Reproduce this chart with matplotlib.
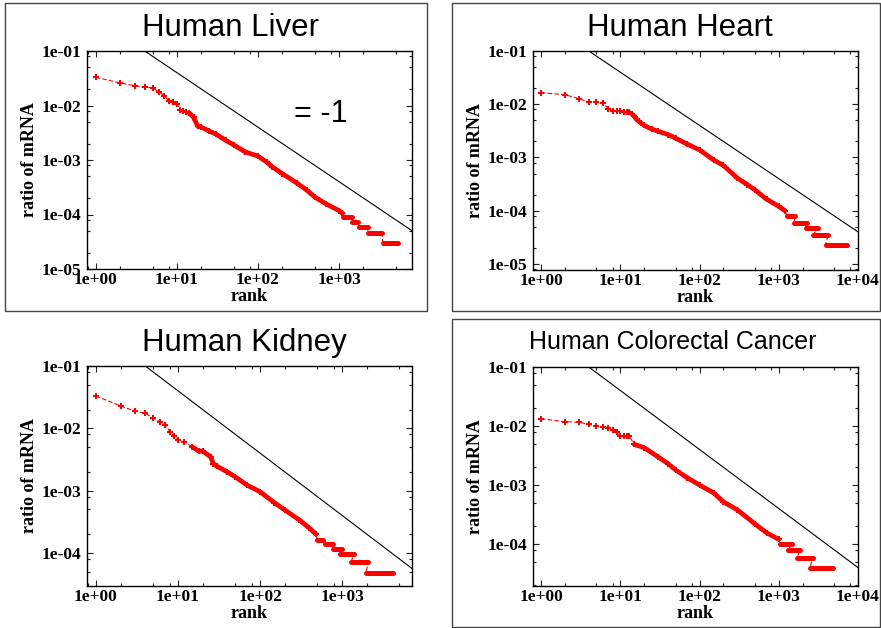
import matplotlib
matplotlib.use("Agg")
import matplotlib.pyplot as plt
from matplotlib.ticker import LogLocator, NullFormatter, FixedLocator, FuncFormatter
from matplotlib.patches import Rectangle
import numpy as np

W, H = 881, 628

# ---- values (rank, ratio of mRNA) ----
# Human Liver
liver_rank = [1, 2, 3, 4, 5, 6, 7, 8, 9, 10, 11, 12, 13, 14, 16, 18, 20, 25, 30, 40,
              50, 70, 100, 130, 150, 200, 300, 400, 500, 700, 1000, 1100]
liver_ratio = [0.0329, 0.0259, 0.0231, 0.0215, 0.0212, 0.0175, 0.0151, 0.0119, 0.0116,
               0.0107, 0.0083, 0.0078, 0.0076, 0.0074, 0.0061, 0.0042, 0.0040, 0.0034,
               0.0030, 0.0023, 0.0019, 0.0014, 0.00118, 0.00090, 0.00075, 0.00056,
               0.00038, 0.00028, 0.00021, 0.000155, 0.000118, 0.000105]
liver_step = [8.9e-5, 7.4e-5, 5.9e-5, 4.5e-5, 2.95e-5]
liver_step_from = [1120, 1460, 1750, 2280, 3450]
liver_step_to = [1440, 1730, 2250, 3400, 5400]

# Human Heart
heart_rank = [1, 2, 3, 4, 5, 6, 7, 8, 9, 10, 11, 12, 13, 14, 15, 16, 18, 20, 25, 30,
              40, 50, 70, 100, 150, 200, 300, 400, 500, 700, 1000, 1200]
heart_ratio = [0.0165, 0.0151, 0.0127, 0.0110, 0.0110, 0.0107, 0.0083, 0.0076, 0.0075,
               0.0074, 0.0073, 0.0072, 0.0070, 0.0066, 0.0059, 0.0052, 0.0045, 0.0040,
               0.0034, 0.0031, 0.0027, 0.0023, 0.00178, 0.00139, 0.00090, 0.00071,
               0.00041, 0.00031, 0.000246, 0.000165, 0.000121, 0.000100]
heart_step = [8.0e-5, 6.0e-5, 4.7e-5, 3.55e-5, 2.3e-5]
heart_step_from = [1260, 1560, 2200, 2710, 3900]
heart_step_to = [1590, 2240, 3150, 4200, 7160]

# Human Kidney
kidney_rank = [1, 2, 3, 4, 5, 6, 7, 8, 9, 10, 12, 15, 18, 20, 25, 27, 30, 40, 50, 70,
               100, 150, 200, 300, 400, 480]
kidney_ratio = [0.033, 0.0229, 0.0188, 0.0176, 0.0145, 0.0128, 0.0113, 0.0088, 0.0074,
                0.0066, 0.0061, 0.0050, 0.0043, 0.0043, 0.0035, 0.0027, 0.00245, 0.0020,
                0.00166, 0.00122, 0.00096, 0.00064, 0.00049, 0.00034, 0.00025, 0.00020]
kidney_step = [1.62e-4, 1.41e-4, 1.17e-4, 9.5e-5, 7.2e-5, 4.8e-5]
kidney_step_from = [500, 620, 780, 930, 1290, 1950]
kidney_step_to = [590, 780, 1000, 1380, 2090, 4170]

# Human Colorectal Cancer
crc_rank = [1, 2, 3, 4, 5, 6, 7, 8, 9, 10, 11, 12, 13, 15, 20, 30, 40, 50, 70, 100,
            150, 200, 300, 500, 700, 1000]
crc_ratio = [0.0133, 0.0118, 0.0116, 0.0107, 0.0099, 0.0095, 0.0094, 0.0085, 0.0079,
             0.0068, 0.0068, 0.0068, 0.0067, 0.0049, 0.0043, 0.0030, 0.0023, 0.00180,
             0.00133, 0.00100, 0.00074, 0.00052, 0.00038, 0.00022, 0.000156, 0.000120]
crc_step = [9.9e-5, 7.9e-5, 5.9e-5, 4.0e-5]
crc_step_from = [1030, 1300, 1700, 2470]
crc_step_to = [1470, 1860, 2700, 4800]

# slope -1 guide line
guide_x = [4.0, 10000]
guide_y = [0.1, 4e-5]

RED = "#ff0000"
TICKFONT = dict(family="Liberation Serif", weight="bold", size=12.5)
LABELFONT = dict(family="Liberation Serif", weight="bold", size=13)

fig = plt.figure(figsize=(W / 100, H / 100), dpi=100)


def add_px_axes(l, t, r, b):
    return fig.add_axes([l / W, 1 - b / H, (r - l) / W, (b - t) / H])


def panel(box, rank, ratio, step, step_from, step_to, xlim, ylim):
    ax = add_px_axes(*box)
    ax.set_xscale("log")
    ax.set_yscale("log")

    rank = np.array(rank)
    ratio = np.array(ratio)
    # thin dashed connection through every point, steps included
    all_x = list(rank)
    all_y = list(ratio)
    for v, a, b in zip(step, step_from, step_to):
        all_x += [a, b]
        all_y += [v, v]
    ax.plot(all_x, all_y, ls=(0, (4, 2)), lw=0.8, color=RED, zorder=2)
    ax.plot(rank, ratio, ls="none", marker="P", ms=4.5, mew=0, color=RED, zorder=3)
    dense = rank >= 14
    ax.plot(rank[dense], ratio[dense], lw=3.4, color=RED, solid_capstyle="round",
            solid_joinstyle="round", zorder=3)
    ax.hlines(step, step_from, step_to, lw=3.6, color=RED, capstyle="round", zorder=3)

    ax.plot(guide_x, guide_y, color="black", lw=0.8, zorder=4)

    ax.set_xlim(*xlim)
    ax.set_ylim(*ylim)
    xt = [10.0 ** k for k in range(0, 5) if xlim[0] <= 10.0 ** k <= xlim[1] * 1.001]
    yt = [10.0 ** k for k in range(-5, 0) if ylim[0] * 0.999 <= 10.0 ** k <= ylim[1]]
    ax.xaxis.set_major_locator(FixedLocator(xt))
    ax.yaxis.set_major_locator(FixedLocator(yt))
    fmt = FuncFormatter(lambda v, p: f"{v:.0e}")
    ax.xaxis.set_major_formatter(fmt)
    ax.yaxis.set_major_formatter(fmt)
    ax.xaxis.set_minor_locator(LogLocator(base=10, subs=(2, 5, 8)))
    ax.yaxis.set_minor_locator(LogLocator(base=10, subs=(2, 5, 8)))
    ax.xaxis.set_minor_formatter(NullFormatter())
    ax.yaxis.set_minor_formatter(NullFormatter())
    ax.tick_params(which="both", direction="in", top=True, right=True, width=0.8,
                   color="#222222")
    ax.tick_params(which="major", length=4, pad=2)
    ax.tick_params(which="minor", length=2.5)
    ax.tick_params(axis="y", which="major", pad=4)
    for lab in ax.get_xticklabels() + ax.get_yticklabels():
        lab.set(**TICKFONT)
    for s in ax.spines.values():
        s.set_linewidth(1.0)
    ax.set_xlabel("rank", labelpad=0.5, **LABELFONT)
    ax.set_ylabel("ratio of mRNA", labelpad=3, **LABELFONT)
    return ax


ax1 = panel((87, 51, 412, 269), liver_rank, liver_ratio, liver_step, liver_step_from,
            liver_step_to, (0.776, 7950), (1e-5, 1e-1))
ax2 = panel((533, 51, 858, 270), heart_rank, heart_ratio, heart_step, heart_step_from,
            heart_step_to, (0.79, 1e4), (7.7e-6, 1e-1))
ax3 = panel((87, 366, 412, 586), kidney_rank, kidney_ratio, kidney_step, kidney_step_from,
            kidney_step_to, (0.78, 7100), (2.95e-5, 1e-1))
ax4 = panel((533, 367, 858, 586), crc_rank, crc_ratio, crc_step, crc_step_from,
            crc_step_to, (0.79, 1e4), (1.95e-5, 1e-1))

# panel frames
for l, t, r, b in [(5, 3, 427, 311), (452, 3, 880, 311), (452, 319, 880, 627)]:
    fig.patches.append(Rectangle((l / W, 1 - b / H), (r - l) / W, (b - t) / H,
                                 transform=fig.transFigure, fill=False,
                                 edgecolor="#444444", lw=1.0))


def ftext(x, y, s, size):
    fig.text(x / W, 1 - y / H, s, ha="center", va="center", size=size,
             family="Liberation Sans")


ftext(230, 28, "Human Liver", 22.5)
ftext(680, 28, "Human Heart", 22.5)
ftext(244, 343, "Human Kidney", 22.5)
ftext(673, 342, "Human Colorectal Cancer", 18)
ftext(321, 114, "= -1", 22)

fig.savefig("out.png", dpi=100)
